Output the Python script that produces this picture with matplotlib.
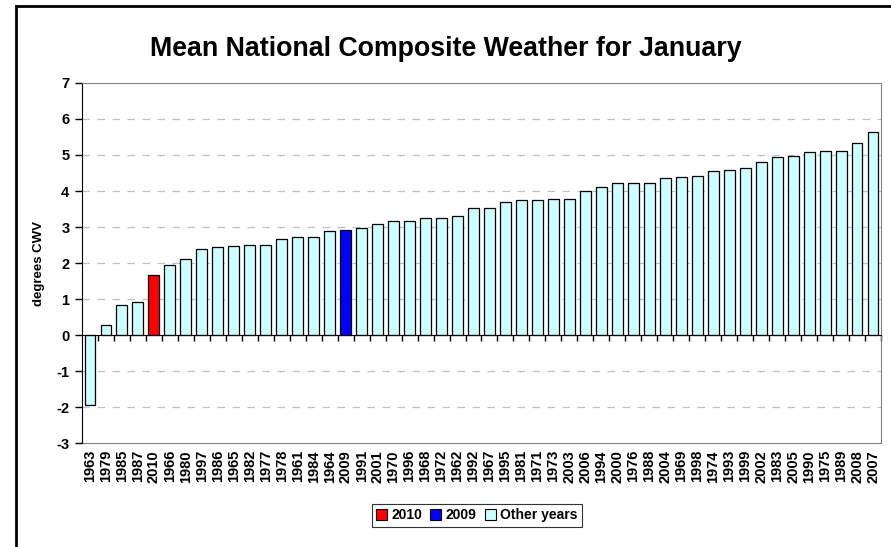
import numpy as np
import matplotlib.pyplot as plt
from matplotlib.lines import Line2D
from matplotlib.patches import Patch

plt.rcParams['font.family'] = ['Liberation Sans', 'DejaVu Sans']
plt.rcParams['font.weight'] = 'bold'
plt.rcParams['axes.unicode_minus'] = False

years = ['1963', '1979', '1985', '1987', '2010', '1966', '1980', '1997', '1986', '1965',
         '1982', '1977', '1978', '1961', '1984', '1964', '2009', '1991', '2001', '1970',
         '1996', '1968', '1972', '1962', '1992', '1967', '1995', '1981', '1971', '1973',
         '2003', '2006', '1994', '2000', '1976', '1988', '2004', '1969', '1998', '1974',
         '1993', '1999', '2002', '1983', '2005', '1990', '1975', '1989', '2008', '2007']
cwv = [-1.94, 0.27, 0.84, 0.93, 1.66, 1.94, 2.11, 2.38, 2.45, 2.48,
       2.50, 2.50, 2.67, 2.71, 2.71, 2.89, 2.92, 2.96, 3.07, 3.16,
       3.18, 3.24, 3.24, 3.30, 3.54, 3.54, 3.70, 3.75, 3.75, 3.77,
       3.79, 3.99, 4.11, 4.22, 4.23, 4.23, 4.35, 4.39, 4.41, 4.55,
       4.59, 4.63, 4.80, 4.94, 4.98, 5.09, 5.10, 5.12, 5.32, 5.64]

c2010 = '#FF0000'
c2009 = '#0000FF'
cother = '#CCFFFF'
colors = [c2010 if y == '2010' else c2009 if y == '2009' else cother for y in years]

fig = plt.figure(figsize=(8.91, 5.47), dpi=100)
ax = fig.add_axes([0.092, 0.190, 0.8968, 0.6583])

x = np.arange(len(years))
ax.bar(x, cwv, width=0.68, color=colors, edgecolor='black', linewidth=0.9, zorder=3)

ax.set_xlim(-0.5, len(years) - 0.5)
ax.set_ylim(-3, 7)
ax.set_yticks(range(-3, 8))
ax.tick_params(axis='y', direction='out', length=5, width=1, labelsize=10.5, pad=4)
for t in ax.get_yticklabels():
    t.set_fontweight('bold')

for y in range(-2, 7):
    if y != 0:
        ax.axhline(y, color='#C0C0C0', linestyle=(0, (6, 6)), linewidth=0.9, zorder=1)

# category axis crosses at zero
ax.spines['bottom'].set_position(('data', 0))
ax.spines['bottom'].set_color('black')
ax.spines['bottom'].set_zorder(4)
ax.set_xticks(x[:-1] + 0.5)
ax.set_xticks([len(years) - 0.5], minor=True)
ax.tick_params(axis='x', which='both', direction='out', length=4, width=1, labelbottom=False)

ax.spines['left'].set_color('black')
ax.spines['top'].set_color('#808080')
ax.spines['right'].set_color('#808080')

# year labels along the bottom of the plot area
sec = ax.secondary_xaxis(0)
sec.set_xticks(x)
sec.set_xticklabels(years, rotation=90, fontsize=10.5, fontweight='bold')
sec.tick_params(length=0, pad=5)
sec.spines['bottom'].set_color('#808080')

ax.set_ylabel('degrees CWV', fontsize=9.5, fontweight='bold', labelpad=8)

fig.text(0.5, 0.911, 'Mean National Composite Weather for January',
         ha='center', va='center', fontsize=19.3, fontweight='bold')

handles = [Patch(facecolor=c2010, edgecolor='black', linewidth=0.8, label='2010'),
           Patch(facecolor=c2009, edgecolor='black', linewidth=0.8, label='2009'),
           Patch(facecolor=cother, edgecolor='black', linewidth=0.8, label='Other years')]
leg = fig.legend(handles=handles, loc='center', bbox_to_anchor=(0.535, 0.0576), ncol=3,
                 frameon=True, fancybox=False, edgecolor='black',
                 handlelength=0.8, handleheight=0.8, handletextpad=0.3, columnspacing=0.6,
                 borderpad=0.3, prop={'weight': 'bold', 'size': 10})
leg.get_frame().set_linewidth(0.8)

fig.add_artist(Line2D([0.018, 0.018], [0, 0.989], color='black', linewidth=2, transform=fig.transFigure))
fig.add_artist(Line2D([0.018, 1], [0.989, 0.989], color='black', linewidth=2, transform=fig.transFigure))

fig.savefig('out.png', dpi=100)
